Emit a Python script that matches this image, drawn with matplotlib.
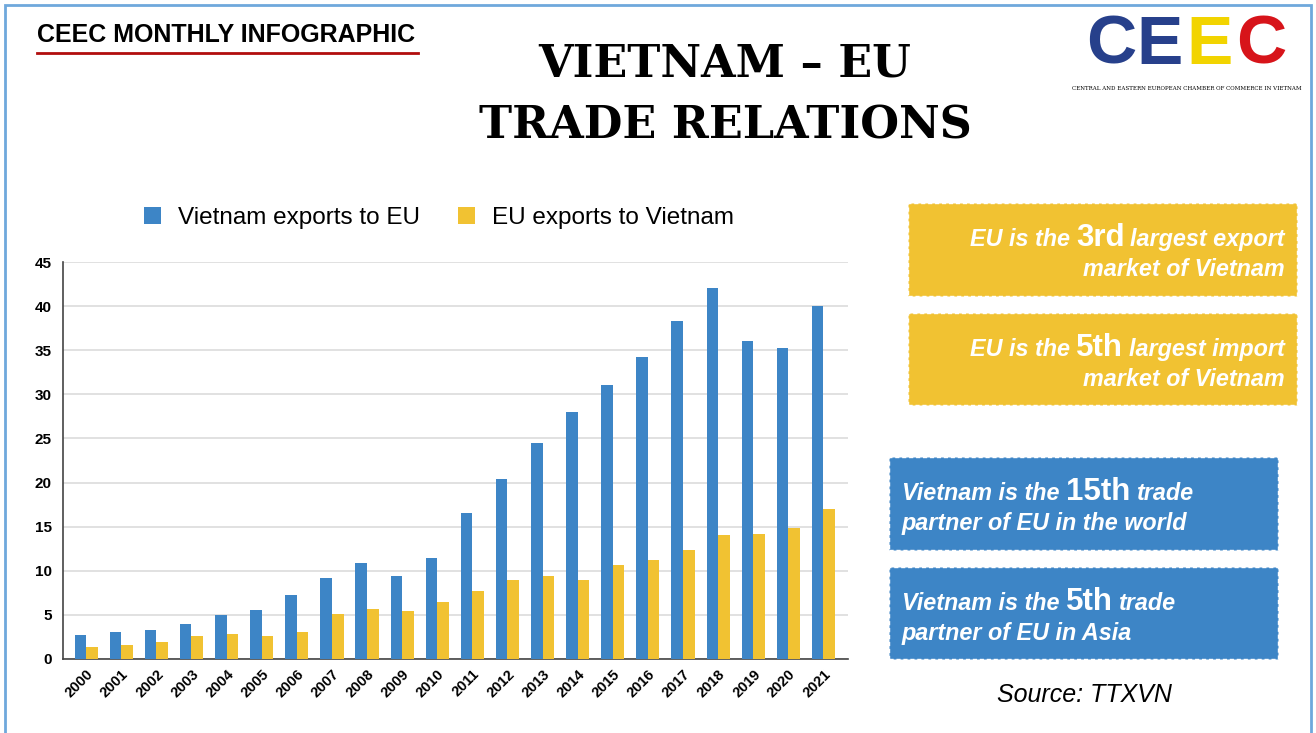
import matplotlib
matplotlib.use("Agg")
import matplotlib.pyplot as plt
import numpy as np
from matplotlib.patches import Rectangle

years = [str(y) for y in range(2000, 2022)]
vn_to_eu = [2.75, 3.1, 3.3, 4.0, 5.0, 5.5, 7.2, 9.2, 10.9, 9.4, 11.4, 16.5,
            20.4, 24.5, 28.0, 31.1, 34.2, 38.3, 42.1, 36.0, 35.3, 40.0]
eu_to_vn = [1.4, 1.6, 1.9, 2.6, 2.8, 2.6, 3.1, 5.1, 5.7, 5.4, 6.5, 7.7,
            8.9, 9.4, 8.9, 10.6, 11.2, 12.3, 14.0, 14.2, 14.8, 17.0]
series_names = ["Vietnam exports to EU", "EU exports to Vietnam"]

BLUE = "#3d85c6"
YELLOW = "#f1c232"
W, H = 1316, 733

plt.rcParams["font.family"] = ["Liberation Sans", "DejaVu Sans"]
fig = plt.figure(figsize=(W / 100, H / 100), dpi=100)


def fx(px):
    return px / W


def fy(py):
    return 1 - py / H


# slide frame
fig.patches.append(Rectangle((fx(5), fy(760)), fx(1306), (760 - 5) / H,
                             transform=fig.transFigure, fill=False,
                             edgecolor="#6fa8dc", linewidth=2))

# header
fig.text(fx(37), fy(35), "CEEC MONTHLY INFOGRAPHIC", fontsize=18, fontweight="bold",
         va="center", ha="left")
fig.lines.append(plt.Line2D([fx(37), fx(418)], [fy(53), fy(53)], transform=fig.transFigure,
                            color="#b10d0d", linewidth=2))
fig.text(fx(725), fy(64), "VIETNAM – EU", fontsize=32, fontweight="bold",
         family="DejaVu Serif", ha="center", va="center")
fig.text(fx(725), fy(126), "TRADE RELATIONS", fontsize=32, fontweight="bold",
         family="DejaVu Serif", ha="center", va="center")

# logo
logo_cols = ["#27408b", "#27408b", "#f2d400", "#d7141a"]
lx = 1086
for ch, c in zip("CEEC", logo_cols):
    fig.text(fx(lx), fy(46), ch, fontsize=50, fontweight="heavy", color=c,
             ha="left", va="center")
    lx += 50
fig.text(fx(1187), fy(88), "CENTRAL AND EASTERN EUROPEAN CHAMBER OF COMMERCE IN VIETNAM",
         fontsize=4, family="DejaVu Serif", ha="center", va="center")

# chart
ax = fig.add_axes([fx(63), fy(659), fx(848 - 63), (659 - 262) / H])
x = np.arange(len(years))
bw = 0.33
ax.bar(x - bw / 2, vn_to_eu, bw, color=BLUE, label=series_names[0], zorder=3)
ax.bar(x + bw / 2, eu_to_vn, bw, color=YELLOW, label=series_names[1], zorder=3)
ax.set_xlim(-0.66, 21.7)
ax.set_ylim(0, 45)
ax.set_yticks(range(0, 50, 5))
ax.set_xticks(x)
ax.set_xticklabels(years, rotation=45, ha="right", rotation_mode="anchor",
                   fontweight="bold", fontsize=10.5)
for lab in ax.get_yticklabels():
    lab.set_fontweight("bold")
    lab.set_fontsize(11)
ax.tick_params(length=0, pad=8)
ax.tick_params(axis="x", pad=6)
ax.grid(axis="y", color="#dcdcdc", linewidth=1.2, zorder=0)
for s in ["top", "right"]:
    ax.spines[s].set_visible(False)
ax.spines["left"].set_color("#444444")
ax.spines["bottom"].set_color("#444444")
ax.spines["left"].set_linewidth(1.2)
ax.spines["bottom"].set_linewidth(1.2)
ax.legend(loc="center", bbox_to_anchor=(fx(439), fy(218)), bbox_transform=fig.transFigure,
          ncol=2, frameon=False, fontsize=17.5, handlelength=0.7, handleheight=0.7,
          columnspacing=1.6, handletextpad=0.7)

# fact boxes
renderer = fig.canvas.get_renderer()


def box(x0, y0, x1, y1, color):
    fig.patches.append(Rectangle((fx(x0), fy(y1)), fx(x1 - x0), (y1 - y0) / H,
                                 transform=fig.transFigure, facecolor=color,
                                 edgecolor="#ffffff", linestyle=(0, (3, 2)),
                                 linewidth=1))


def rich_line(pieces, x0, y, align):
    # pieces: list of (text, size, style); placed one after another
    txt_kw = dict(color="white", fontweight="bold", va="baseline")
    if align == "right":
        cur = x0
        for s, size, style in reversed(pieces):
            t = fig.text(fx(cur), fy(y), s, fontsize=size, style=style, ha="right", **txt_kw)
            bb = t.get_window_extent(renderer)
            cur = bb.x0 - 6
    else:
        cur = x0
        for s, size, style in pieces:
            t = fig.text(fx(cur), fy(y), s, fontsize=size, style=style, ha="left", **txt_kw)
            bb = t.get_window_extent(renderer)
            cur = bb.x1 + 6


box(908, 203, 1297, 296, YELLOW)
box(908, 313, 1297, 405, YELLOW)
box(889, 457, 1278, 550, BLUE)
box(889, 567, 1278, 659, BLUE)

fs, big = 16.8, 22.5
rich_line([("EU is the", fs, "italic"), ("3rd", big, "normal"),
           ("largest export", fs, "italic")], 1285, 246, "right")
rich_line([("market of Vietnam", fs, "italic")], 1285, 276, "right")
rich_line([("EU is the", fs, "italic"), ("5th", big, "normal"),
           ("largest import", fs, "italic")], 1285, 356, "right")
rich_line([("market of Vietnam", fs, "italic")], 1285, 386, "right")
rich_line([("Vietnam is the", fs, "italic"), ("15th", big, "normal"),
           ("trade", fs, "italic")], 902, 500, "left")
rich_line([("partner of EU in the world", fs, "italic")], 902, 530, "left")
rich_line([("Vietnam is the", fs, "italic"), ("5th", big, "normal"),
           ("trade", fs, "italic")], 902, 610, "left")
rich_line([("partner of EU in Asia", fs, "italic")], 902, 640, "left")

fig.text(fx(1084), fy(695), "Source: TTXVN", fontsize=18, style="italic",
         ha="center", va="center")

fig.savefig("out.png", dpi=100)
